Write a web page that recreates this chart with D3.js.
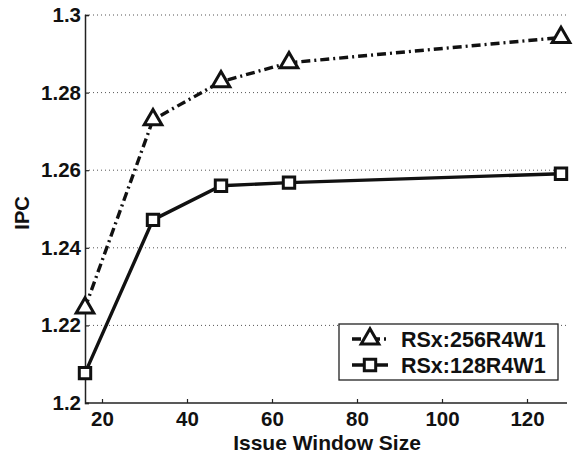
<!DOCTYPE html>
<html><head><meta charset="utf-8">
<script src="https://cdn.jsdelivr.net/npm/d3@7"></script>
<style>body{margin:0;background:#fff}svg{display:block}text{font-family:"Liberation Sans",Arial,sans-serif;font-weight:bold;fill:#111}</style>
</head><body>
<svg id="c" width="573" height="459"></svg>
<script>
const windowSizes = [16, 32, 48, 64, 128];
const ipc256 = [1.2245, 1.2730, 1.2828, 1.2877, 1.2942];
const ipc128 = [1.2077, 1.2472, 1.2560, 1.2568, 1.2591];
const xTicks = [20, 40, 60, 80, 100, 120];
const yTicks = [1.2, 1.22, 1.24, 1.26, 1.28, 1.3];
const seriesNames = ["RSx:256R4W1", "RSx:128R4W1"];

const svg = d3.select("#c");
const x = d3.scaleLinear().domain([16, 128]).range([85, 561]);
const y = d3.scaleLinear().domain([1.2, 1.3]).range([403, 15]);

// grid
svg.append("g").selectAll("line").data(yTicks.filter(d => d > 1.2)).join("line")
  .attr("x1", x(16)).attr("x2", 567).attr("y1", d => y(d)).attr("y2", d => y(d))
  .attr("stroke", "#555").attr("stroke-width", 1).attr("stroke-dasharray", "1,3");

// axes
const xAxis = d3.axisBottom(x).tickValues(xTicks).tickSize(-4).tickPadding(8).tickFormat(d3.format("d"));
const gx = svg.append("g").attr("transform", `translate(0,${y(1.2)})`).call(xAxis);
gx.select(".domain").attr("d", `M${x(16)},0H567`);
const yAxis = d3.axisLeft(y).tickValues(yTicks).tickSize(-4).tickPadding(4).tickFormat(d => d3.format("")(+d.toFixed(2)));
const gy = svg.append("g").attr("transform", `translate(${x(16)},0)`).call(yAxis);
[gx, gy].forEach(g => {
  g.select(".domain").attr("stroke", "#222").attr("stroke-width", 1.5);
  g.selectAll(".tick line").attr("stroke", "#222").attr("stroke-width", 1.2);
  g.selectAll("text").attr("font-size", 20.5).attr("font-family", '"Liberation Sans",Arial,sans-serif').attr("font-weight", "bold").attr("fill", "#111");
});

// titles
svg.append("text").attr("x", 327).attr("y", 450).attr("text-anchor", "middle").attr("font-size", 21).text("Issue Window Size");
svg.append("text").attr("transform", "translate(29,213) rotate(-90)").attr("text-anchor", "middle").attr("font-size", 20).text("IPC");

const line = d3.line().x(d => x(d[0])).y(d => y(d[1]));
const d256 = windowSizes.map((w, i) => [w, ipc256[i]]);
const d128 = windowSizes.map((w, i) => [w, ipc128[i]]);

svg.append("path").datum(d256).attr("d", line).attr("fill", "none").attr("stroke", "#111")
  .attr("stroke-width", 3.4).attr("stroke-dasharray", "9,4,2,4");
svg.append("path").datum(d128).attr("d", line).attr("fill", "none").attr("stroke", "#111")
  .attr("stroke-width", 3.4);

const tri = d3.symbol().type(d3.symbolTriangle).size(135);
const sq = d3.symbol().type(d3.symbolSquare).size(130);
function markers(data, sym) {
  svg.append("g").selectAll("path").data(data).join("path")
    .attr("transform", d => `translate(${x(d[0])},${y(d[1])})`)
    .attr("d", sym).attr("fill", "#fff").attr("stroke", "#111").attr("stroke-width", 3);
}
markers(d256, tri);
markers(d128, sq);

// legend
const lg = svg.append("g");
lg.append("rect").attr("x", 339).attr("y", 324).attr("width", 219).attr("height", 56)
  .attr("fill", "#fff").attr("stroke", "#222").attr("stroke-width", 1.3);
const rows = [
  {name: seriesNames[0], dash: "9,4,2,4", sym: tri},
  {name: seriesNames[1], dash: null, sym: sq}
];
rows.forEach((r, i) => {
  const yy = 339 + i * 26;
  lg.append("line").attr("x1", 352).attr("x2", 388).attr("y1", yy).attr("y2", yy)
    .attr("stroke", "#111").attr("stroke-width", 3.4).attr("stroke-dasharray", r.dash);
  lg.append("path").attr("transform", `translate(370,${yy})`).attr("d", r.sym)
    .attr("fill", "#fff").attr("stroke", "#111").attr("stroke-width", 3);
  lg.append("text").attr("x", 401).attr("y", yy + 8).attr("font-size", 21.5).text(r.name);
});
</script>
</body></html>
